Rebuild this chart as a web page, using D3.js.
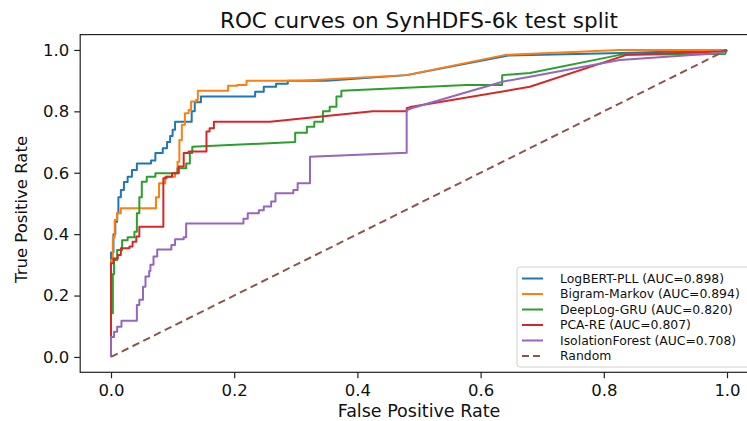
<!DOCTYPE html>
<html>
<head>
<meta charset="utf-8">
<script src="https://cdn.jsdelivr.net/npm/d3@7"></script>
<style>
  body { margin: 0; background: #fff; }
  text { font-family: "DejaVu Sans", sans-serif; fill: #111; }
</style>
</head>
<body>
<div id="chart"></div>
<script>
// ROC points, as [fpr, tpr]
var logbert = [[0,0],[0,0.34],[0.004,0.34],[0.004,0.40],[0.007,0.40],[0.007,0.44],[0.01,0.44],[0.01,0.468],[0.012,0.468],[0.012,0.52],[0.016,0.52],[0.016,0.544],[0.021,0.544],[0.021,0.57],[0.027,0.57],[0.027,0.587],[0.034,0.587],[0.034,0.609],[0.042,0.609],[0.042,0.63],[0.065,0.63],[0.065,0.64],[0.072,0.64],[0.072,0.664],[0.084,0.664],[0.084,0.68],[0.091,0.68],[0.091,0.70],[0.096,0.70],[0.096,0.72],[0.10,0.72],[0.10,0.74],[0.104,0.74],[0.104,0.766],[0.131,0.766],[0.131,0.80],[0.136,0.80],[0.136,0.83],[0.146,0.83],[0.146,0.848],[0.234,0.848],[0.234,0.864],[0.248,0.864],[0.248,0.88],[0.268,0.88],[0.268,0.89],[0.287,0.89],[0.287,0.90],[0.35,0.90],[0.48,0.918],[0.645,0.982],[0.83,0.99],[1,1]]
var bigram = [[0,0],[0,0.316],[0.003,0.316],[0.003,0.39],[0.006,0.39],[0.006,0.446],[0.01,0.446],[0.01,0.468],[0.016,0.468],[0.016,0.484],[0.073,0.484],[0.073,0.52],[0.078,0.52],[0.078,0.566],[0.088,0.566],[0.088,0.587],[0.104,0.587],[0.104,0.60],[0.108,0.60],[0.108,0.636],[0.111,0.636],[0.111,0.707],[0.115,0.707],[0.115,0.756],[0.12,0.756],[0.12,0.794],[0.126,0.794],[0.126,0.804],[0.13,0.804],[0.13,0.832],[0.138,0.832],[0.138,0.837],[0.141,0.837],[0.141,0.867],[0.19,0.867],[0.19,0.883],[0.205,0.883],[0.205,0.886],[0.22,0.886],[0.22,0.90],[0.307,0.90],[0.48,0.918],[0.64,0.984],[0.826,1.0],[1,1]]
var deeplog = [[0,0],[0,0.142],[0.003,0.142],[0.003,0.27],[0.005,0.27],[0.005,0.316],[0.01,0.316],[0.01,0.348],[0.018,0.348],[0.018,0.38],[0.027,0.38],[0.027,0.39],[0.038,0.39],[0.038,0.408],[0.042,0.408],[0.042,0.468],[0.046,0.468],[0.046,0.52],[0.05,0.52],[0.05,0.571],[0.058,0.571],[0.058,0.587],[0.072,0.587],[0.072,0.598],[0.108,0.598],[0.108,0.615],[0.122,0.615],[0.122,0.63],[0.128,0.63],[0.128,0.664],[0.132,0.664],[0.132,0.685],[0.299,0.70],[0.299,0.73],[0.318,0.73],[0.318,0.75],[0.33,0.75],[0.33,0.766],[0.344,0.766],[0.344,0.80],[0.355,0.80],[0.355,0.815],[0.366,0.815],[0.366,0.848],[0.374,0.848],[0.374,0.867],[0.577,0.886],[0.635,0.886],[0.635,0.918],[0.68,0.925],[0.826,0.984],[0.997,0.987],[1,1]]
var pcare = [[0,0],[0,0.305],[0.004,0.305],[0.004,0.321],[0.011,0.321],[0.011,0.332],[0.016,0.332],[0.016,0.354],[0.03,0.354],[0.03,0.36],[0.035,0.36],[0.035,0.375],[0.041,0.375],[0.041,0.392],[0.046,0.392],[0.046,0.424],[0.085,0.424],[0.085,0.582],[0.09,0.582],[0.09,0.587],[0.099,0.587],[0.099,0.598],[0.11,0.598],[0.11,0.62],[0.118,0.62],[0.118,0.664],[0.126,0.664],[0.126,0.669],[0.155,0.669],[0.155,0.734],[0.16,0.734],[0.16,0.745],[0.167,0.745],[0.167,0.766],[0.258,0.766],[0.425,0.80],[0.48,0.80],[0.48,0.81],[0.488,0.815],[0.68,0.88],[0.837,0.984],[0.99,0.995],[1,1]]
var isoforest = [[0,0],[0,0.065],[0.005,0.065],[0.005,0.082],[0.01,0.082],[0.01,0.098],[0.017,0.098],[0.017,0.118],[0.042,0.118],[0.042,0.169],[0.046,0.169],[0.046,0.186],[0.052,0.186],[0.052,0.229],[0.056,0.229],[0.056,0.262],[0.062,0.262],[0.062,0.28],[0.064,0.28],[0.064,0.30],[0.069,0.30],[0.069,0.327],[0.075,0.327],[0.075,0.35],[0.098,0.35],[0.098,0.365],[0.104,0.365],[0.104,0.383],[0.118,0.383],[0.118,0.39],[0.122,0.39],[0.122,0.435],[0.215,0.435],[0.215,0.45],[0.222,0.45],[0.222,0.468],[0.24,0.468],[0.24,0.478],[0.248,0.478],[0.248,0.49],[0.26,0.49],[0.26,0.506],[0.267,0.506],[0.267,0.533],[0.296,0.533],[0.296,0.544],[0.303,0.544],[0.303,0.566],[0.323,0.566],[0.323,0.652],[0.48,0.665],[0.48,0.803],[0.488,0.81],[0.637,0.897],[0.68,0.913],[0.826,0.967],[0.99,0.99],[1,1]]
var randomLine = [[0,0],[1,1]]

var names = ["LogBERT-PLL (AUC=0.898)", "Bigram-Markov (AUC=0.894)", "DeepLog-GRU (AUC=0.820)",
  "PCA-RE (AUC=0.807)", "IsolationForest (AUC=0.708)", "Random"]
var colors = ["#1f77b4", "#ff7f0e", "#2ca02c", "#d62728", "#9467bd", "#8c564b"]
var tickValues = [0, 0.2, 0.4, 0.6, 0.8, 1.0]

var series = [logbert, bigram, deeplog, pcare, isoforest, randomLine]

var W = 747, H = 421

var svg = d3.select("#chart")
  .append("svg")
  .attr("width", W)
  .attr("height", H)

// axes area spans -0.05..1.05 on both axes (matplotlib margins)
var x = d3.scaleLinear().domain([-0.05, 1.05]).range([80.2, 757.8])
var y = d3.scaleLinear().domain([-0.05, 1.05]).range([372.3, 34.6])

// curves
var line = d3.line()
  .x(function (d) { return x(d[0]) })
  .y(function (d) { return y(d[1]) })

svg.selectAll(".roc")
  .data(series)
  .enter()
  .append("path")
  .attr("class", "roc")
  .attr("d", function (d) { return line(d) })
  .attr("fill", "none")
  .attr("stroke", function (d, i) { return colors[i] })
  .attr("stroke-width", 2)
  .attr("stroke-linejoin", "round")
  .attr("stroke-dasharray", function (d, i) { return i === 5 ? "7.5,4.5" : null })

// spines
svg.append("rect")
  .attr("x", x(-0.05)).attr("y", y(1.05))
  .attr("width", x(1.05) - x(-0.05))
  .attr("height", y(-0.05) - y(1.05))
  .attr("fill", "none")
  .attr("stroke", "#222")
  .attr("stroke-width", 1.2)

// x axis
var xAxis = svg.append("g")
  .attr("transform", "translate(0," + y(-0.05) + ")")
  .call(d3.axisBottom(x).tickValues(tickValues).tickFormat(d3.format(".1f")).tickSize(6).tickPadding(6))
xAxis.select(".domain").remove()
xAxis.selectAll("line").attr("stroke", "#222").attr("stroke-width", 1.2)
xAxis.selectAll("text").style("font-size", "16.5px").attr("fill", "#111")

// y axis
var yAxis = svg.append("g")
  .attr("transform", "translate(" + x(-0.05) + ",0)")
  .call(d3.axisLeft(y).tickValues(tickValues).tickFormat(d3.format(".1f")).tickSize(6).tickPadding(5))
yAxis.select(".domain").remove()
yAxis.selectAll("line").attr("stroke", "#222").attr("stroke-width", 1.2)
yAxis.selectAll("text").style("font-size", "16.5px").attr("fill", "#111")

// labels
svg.append("text")
  .attr("x", (x(-0.05) + x(1.05)) / 2)
  .attr("y", 28)
  .attr("text-anchor", "middle")
  .style("font-size", "21.5px")
  .text("ROC curves on SynHDFS-6k test split")

svg.append("text")
  .attr("x", (x(-0.05) + x(1.05)) / 2)
  .attr("y", 416.5)
  .attr("text-anchor", "middle")
  .style("font-size", "17.5px")
  .text("False Positive Rate")

svg.append("text")
  .attr("transform", "translate(27," + ((y(-0.05) + y(1.05)) / 2 + 6) + ") rotate(-90)")
  .attr("text-anchor", "middle")
  .style("font-size", "16.5px")
  .text("True Positive Rate")

// legend
var legend = svg.append("g").attr("transform", "translate(517,267)")
legend.append("rect")
  .attr("width", 240).attr("height", 100)
  .attr("rx", 3)
  .attr("fill", "#fff").attr("fill-opacity", 0.8)
  .attr("stroke", "#d0d0d0")

var rows = legend.selectAll(".lrow")
  .data(names)
  .enter().append("g")
  .attr("class", "lrow")
  .attr("transform", function (d, i) { return "translate(0," + (11.5 + i * 15.5) + ")" })

rows.append("line")
  .attr("x1", 5).attr("x2", 26)
  .attr("stroke", function (d, i) { return colors[i] })
  .attr("stroke-width", 2)
  .attr("stroke-dasharray", function (d, i) { return i === 5 ? "7,4" : null })

rows.append("text")
  .attr("x", 43)
  .attr("dy", "0.36em")
  .style("font-size", "12.4px")
  .text(function (d) { return d })
</script>
</body>
</html>
